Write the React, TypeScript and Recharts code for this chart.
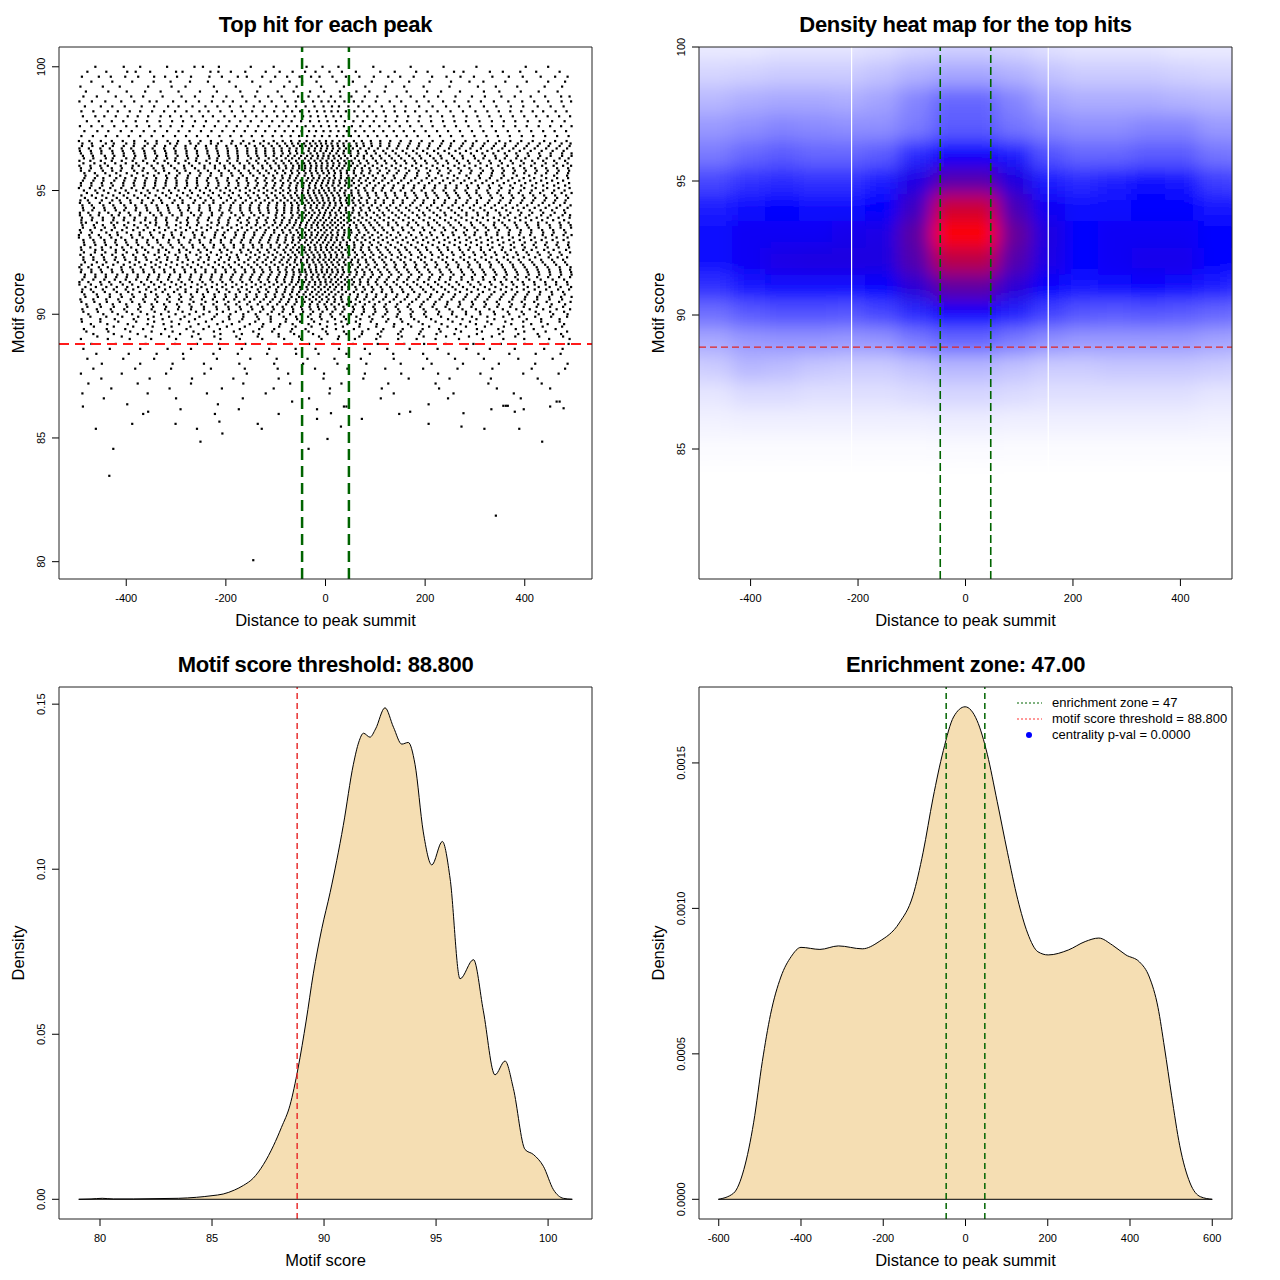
import React from 'react';
import {
  ScatterChart,
  Scatter,
  ComposedChart,
  Area,
  XAxis,
  YAxis,
  ReferenceLine,
  ReferenceArea,
} from 'recharts';

const FONT = '"Liberation Sans", Arial, Helvetica, sans-serif';

// ---------------- Panel 1: top hit for each peak (scatter) ----------------
const enrichmentZone = 47;
const scoreThreshold = 88.8;
const scatterXTicks = [-400, -200, 0, 200, 400];
const scatterYTicks = [80, 85, 90, 95, 100];

const hitScoreLevels = [
  100.0, 99.8, 99.6, 99.4, 99.2, 99.0, 98.8, 98.6, 98.4, 98.2, 98.0, 97.8, 97.6, 97.4, 97.2, 97.0,
  91.0, 93.3, 95.6, 91.9, 94.2, 96.5, 92.8, 95.1, 91.4, 93.7, 96.0, 92.3, 94.6, 96.9, 93.2,
  95.5, 91.8, 94.1, 96.4, 92.7, 95.0, 91.3, 93.6, 95.9, 92.2, 94.5, 96.8, 93.1, 95.4, 91.7,
  90.8, 90.6, 90.4, 90.2, 90.0, 89.8, 89.6, 89.4, 89.2, 89.0,
  88.8, 88.6, 88.4, 88.2, 88.0, 87.8, 87.6, 87.4, 87.2, 87.0, 86.8, 86.6,
  94.0, 96.3, 92.6, 94.9, 91.2, 93.5, 95.8, 92.1, 94.4, 96.7,
  93.0, 95.3, 91.6, 93.9, 96.2, 92.5, 94.8, 91.1, 93.4, 95.7,
  92.0, 94.3, 96.6, 92.9, 95.2, 91.5, 93.8, 96.1, 92.4, 94.7,
  90.9, 90.7, 90.5, 90.3, 90.1, 89.9, 89.7, 89.5, 89.3, 89.1,
];

const hitDistanceRows = [
  [-462,-405,-372,-318,-263,-246,-214,-150,-104,-38,-6,26,96,171,237,303,402,447],
  [-478,-440,-398,-381,-352,-300,-287,-231,-215,-190,-161,-120,-92,-66,-41,-20,8,33,61,110,139,182,205,258,277,330,356,391,423,470],
  [-489,-455,-431,-402,-376,-344,-322,-298,-270,-233,-208,-176,-158,-127,-101,-77,-52,-29,-12,14,41,68,97,126,150,177,214,243,271,298,335,368,396,432,461,486],
  [-470,-428,-388,-345,-311,-272,-236,-193,-147,-110,-72,-47,-18,22,55,93,134,168,209,252,289,317,361,404,447,481],
  [-492,-447,-413,-356,-309,-281,-224,-180,-131,-83,-58,-9,37,80,121,158,197,249,306,342,385,440,475],
  [-481,-436,-399,-362,-331,-295,-252,-218,-171,-137,-96,-64,-31,-3,29,62,88,119,163,204,232,270,318,349,392,428,466],
  [-486,-459,-421,-390,-366,-327,-289,-262,-226,-199,-167,-141,-115,-88,-55,-34,-14,11,30,52,79,104,143,171,198,226,261,294,320,353,380,412,441,473,490],
  [-494,-469,-442,-410,-384,-353,-339,-306,-280,-254,-228,-205,-186,-159,-132,-108,-81,-60,-44,-25,-8,6,19,38,57,74,101,129,152,183,207,236,259,287,312,338,367,395,419,447,474,493],
  [-483,-451,-428,-403,-369,-344,-316,-295,-267,-241,-217,-192,-170,-144,-122,-99,-76,-59,-40,-22,-4,13,27,46,66,88,113,138,161,188,215,242,268,290,318,343,372,397,426,452,478],
  [-490,-466,-437,-417,-393,-372,-348,-324,-302,-279,-253,-235,-211,-188,-166,-147,-126,-103,-84,-67,-51,-33,-17,-2,12,25,41,58,77,95,117,139,160,180,203,225,251,276,301,325,348,371,393,416,437,462,484],
  [-487,-462,-444,-421,-397,-377,-356,-331,-312,-290,-269,-246,-226,-203,-182,-161,-139,-118,-97,-79,-62,-45,-30,-15,1,16,31,47,64,84,102,121,144,166,189,211,234,257,283,305,329,352,376,399,423,446,469,491],
  [-479,-455,-429,-406,-381,-358,-333,-308,-286,-262,-240,-215,-193,-171,-150,-128,-107,-86,-68,-49,-31,-13,4,21,39,56,75,97,120,141,164,187,212,236,259,282,309,334,358,381,406,430,455,480],
  [-493,-470,-448,-424,-400,-379,-354,-331,-311,-288,-266,-244,-222,-199,-178,-156,-135,-113,-93,-74,-57,-40,-24,-9,7,22,37,53,70,89,108,128,149,170,193,215,239,262,287,311,334,357,381,404,428,451,473,494],
  [-484,-458,-436,-411,-389,-365,-343,-318,-295,-273,-250,-229,-207,-184,-162,-140,-121,-101,-82,-65,-48,-33,-19,-4,10,26,43,60,78,97,116,137,157,178,201,224,246,270,294,317,342,366,389,413,437,460,483],
  [-490,-467,-441,-418,-395,-372,-349,-326,-302,-280,-258,-236,-213,-191,-169,-148,-127,-106,-88,-70,-53,-37,-22,-7,8,23,36,51,67,85,104,123,143,163,185,208,230,252,275,299,323,346,370,394,417,441,465,488],
  [-495,-474,-451,-429,-407,-384,-362,-339,-317,-296,-273,-251,-230,-209,-187,-165,-144,-124,-104,-86,-69,-52,-38,-25,-12,1,14,28,42,57,73,91,110,130,151,171,193,215,236,258,281,303,326,349,371,393,416,439,461,484],
  [-488,-471,-447,-425,-401,-386,-360,-341,-322,-297,-281,-257,-238,-218,-199,-175,-158,-136,-119,-99,-81,-66,-50,-36,-21,-9,5,18,33,46,62,79,96,114,133,154,174,196,217,240,261,284,306,329,352,374,398,420,443,467,489],
  [-491,-469,-440,-418,-399,-373,-352,-333,-309,-289,-266,-247,-221,-203,-181,-162,-143,-122,-103,-85,-70,-55,-41,-28,-15,-2,11,24,38,52,68,86,105,124,146,167,190,210,233,255,278,300,322,345,368,391,413,437,458,482],
  [-482,-458,-433,-412,-389,-366,-344,-320,-298,-276,-253,-231,-209,-187,-166,-145,-124,-105,-87,-71,-56,-42,-27,-12,3,17,31,46,61,77,95,115,137,160,184,208,233,258,283,308,333,358,384,409,434,459,485],
  [-494,-476,-455,-437,-410,-392,-371,-349,-333,-311,-287,-270,-249,-226,-206,-190,-168,-149,-131,-112,-95,-78,-63,-47,-33,-19,-6,7,20,34,49,65,82,99,118,139,158,180,199,221,243,266,287,310,331,356,377,400,424,446,470,492],
  [-486,-468,-443,-421,-404,-381,-358,-336,-315,-292,-276,-254,-232,-213,-193,-171,-152,-133,-115,-97,-83,-68,-54,-40,-26,-13,1,13,27,41,56,72,89,108,127,147,168,188,209,231,253,274,297,319,342,363,387,410,432,455,479],
  [-491,-470,-450,-427,-405,-384,-363,-342,-320,-301,-279,-258,-237,-216,-196,-177,-157,-139,-121,-103,-86,-71,-57,-44,-30,-17,-4,9,22,36,50,66,83,101,121,141,162,183,204,226,248,270,292,315,337,360,383,406,429,452,475,494],
  [-484,-462,-441,-419,-397,-376,-355,-331,-311,-289,-267,-246,-224,-205,-184,-165,-146,-128,-110,-92,-76,-61,-48,-35,-22,-10,3,15,29,43,58,75,93,111,131,152,172,194,215,238,259,282,304,326,349,372,395,418,441,464,487],
  [-495,-473,-453,-432,-410,-389,-366,-345,-325,-302,-282,-260,-240,-219,-200,-180,-160,-142,-124,-106,-90,-74,-59,-45,-32,-20,-7,6,18,32,46,61,78,96,115,135,156,177,198,219,241,263,286,308,330,353,376,399,422,445,468,490],
  [-488,-466,-444,-423,-401,-380,-358,-337,-316,-295,-273,-252,-231,-211,-191,-171,-152,-134,-116,-99,-83,-67,-53,-39,-26,-13,0,12,25,39,53,69,86,104,123,144,164,185,207,228,250,273,295,317,340,363,386,409,432,456,479],
  [-490,-481,-459,-430,-418,-396,-371,-352,-340,-318,-291,-276,-255,-229,-214,-195,-170,-154,-137,-118,-101,-88,-72,-60,-49,-37,-24,-15,-3,10,19,31,44,57,71,88,104,126,142,167,182,206,224,247,268,292,311,339,355,380,402,427,444,470,488],
  [-494,-472,-452,-437,-411,-387,-375,-349,-327,-310,-284,-268,-243,-222,-203,-185,-163,-146,-127,-111,-94,-80,-65,-53,-41,-29,-18,-8,4,15,27,38,51,64,79,95,113,133,151,174,192,215,236,259,279,301,324,347,366,391,413,435,458,477,493],
  [-486,-466,-445,-421,-404,-381,-361,-334,-317,-296,-279,-251,-234,-210,-192,-176,-151,-133,-116,-100,-84,-70,-58,-45,-33,-22,-11,0,11,22,34,46,59,74,90,108,121,145,160,186,200,227,244,271,289,313,333,358,377,398,421,448,466,485],
  [-492,-477,-449,-428,-413,-392,-368,-346,-330,-303,-287,-262,-241,-225,-198,-181,-160,-140,-122,-106,-90,-76,-62,-50,-38,-27,-16,-5,6,17,29,41,54,67,83,100,117,136,155,179,197,218,240,262,285,304,329,351,372,395,417,440,461,482],
  [-488,-469,-441,-425,-400,-384,-357,-339,-312,-298,-271,-255,-230,-216,-189,-170,-153,-131,-114,-97,-81,-67,-55,-43,-31,-20,-9,1,12,24,36,48,62,76,92,110,128,148,169,188,209,233,252,276,296,319,342,361,386,408,430,451,474,492],
  [-495,-474,-455,-433,-417,-390,-373,-350,-325,-308,-290,-263,-248,-222,-206,-180,-164,-143,-125,-109,-93,-78,-64,-51,-39,-28,-17,-6,4,14,25,37,49,63,78,94,112,131,150,172,193,213,236,257,281,299,323,345,368,389,411,436,455,478,494],
  [-484,-463,-446,-420,-402,-381,-359,-340,-318,-301,-277,-258,-236,-219,-196,-174,-158,-137,-119,-102,-86,-72,-59,-47,-35,-24,-13,-2,8,19,31,43,56,70,85,101,119,139,158,180,203,221,245,265,288,310,330,353,375,398,419,443,465,487],
  [-490,-470,-451,-429,-409,-387,-366,-345,-324,-304,-283,-262,-241,-221,-201,-183,-162,-144,-127,-111,-95,-80,-66,-53,-41,-30,-19,-8,3,13,24,35,47,60,74,89,106,124,143,164,184,206,229,249,272,293,315,337,360,381,404,426,449,471,491],
  [-493,-476,-454,-436,-413,-395,-372,-352,-331,-313,-289,-270,-249,-228,-207,-189,-168,-149,-131,-114,-98,-83,-69,-56,-44,-33,-22,-11,-1,9,20,31,42,54,67,81,97,115,134,153,175,196,217,239,260,283,305,326,349,371,393,415,437,460,481],
  [-487,-467,-443,-424,-405,-382,-362,-338,-320,-297,-278,-256,-234,-214,-195,-176,-155,-137,-120,-104,-89,-75,-62,-49,-37,-26,-15,-4,6,16,27,39,51,64,77,92,109,128,147,168,189,210,231,254,275,298,320,341,364,386,408,431,452,475,494],
  [-491,-472,-449,-431,-408,-390,-368,-347,-327,-307,-285,-266,-243,-225,-203,-184,-165,-145,-128,-110,-94,-79,-65,-53,-42,-31,-20,-9,1,11,22,33,45,58,72,87,103,121,140,160,181,202,225,245,268,290,312,335,356,379,400,423,446,468,489],
  [-485,-462,-445,-422,-401,-380,-357,-337,-314,-295,-272,-252,-232,-211,-192,-172,-152,-134,-117,-100,-85,-71,-58,-46,-35,-24,-13,-3,7,18,29,40,52,66,80,95,113,132,151,173,193,215,237,259,281,303,325,348,370,392,414,437,459,480],
  [-494,-476,-452,-434,-412,-393,-370,-350,-330,-309,-289,-268,-247,-227,-207,-187,-167,-148,-130,-113,-97,-82,-68,-55,-43,-32,-21,-10,0,10,21,32,44,57,70,85,101,119,137,157,177,198,220,241,263,286,307,330,352,374,396,419,441,463,485],
  [-488,-465,-447,-425,-404,-384,-361,-341,-319,-300,-278,-258,-237,-217,-197,-178,-158,-140,-123,-106,-91,-77,-63,-51,-39,-28,-17,-6,4,14,25,37,49,62,76,91,108,126,145,165,186,207,229,251,272,294,317,338,360,383,405,427,450,472,492],
  [-491,-471,-450,-429,-409,-388,-365,-345,-325,-303,-283,-262,-243,-222,-202,-182,-163,-144,-126,-109,-93,-79,-66,-53,-41,-30,-19,-8,2,12,23,34,46,59,73,88,104,122,141,161,182,203,224,246,267,289,311,333,355,377,399,421,443,465,487],
  [-486,-466,-444,-423,-402,-381,-359,-339,-318,-297,-276,-255,-235,-214,-194,-174,-155,-137,-120,-103,-88,-74,-61,-49,-37,-26,-15,-4,7,17,28,40,53,66,81,96,114,132,151,171,192,213,235,256,278,300,322,344,366,388,410,433,455,477],
  [-493,-474,-453,-433,-411,-391,-369,-349,-328,-307,-287,-265,-245,-225,-205,-185,-166,-148,-130,-113,-97,-83,-69,-57,-45,-34,-23,-12,-2,9,20,31,43,56,70,84,100,117,136,155,175,196,218,239,261,283,304,326,348,370,392,414,436,458,480],
  [-489,-468,-447,-427,-405,-385,-363,-343,-322,-301,-281,-260,-240,-219,-199,-180,-160,-142,-125,-108,-92,-77,-64,-51,-40,-28,-17,-7,4,14,25,37,50,63,77,93,110,128,146,166,187,208,230,251,273,295,316,338,360,382,404,426,448,470,490],
  [-495,-472,-451,-430,-410,-388,-367,-346,-326,-305,-284,-263,-243,-223,-202,-183,-164,-146,-128,-111,-95,-80,-66,-54,-42,-31,-20,-9,1,12,22,34,46,60,74,89,106,123,142,162,182,203,224,246,268,289,311,333,355,376,398,420,442,464,486],
  [-487,-466,-446,-424,-404,-383,-362,-341,-320,-299,-279,-258,-238,-217,-197,-178,-158,-140,-122,-106,-90,-75,-62,-50,-38,-27,-16,-5,6,16,28,40,53,67,81,97,114,133,152,172,193,214,236,257,279,301,323,345,367,389,411,433,455,477],
  [-491,-470,-449,-428,-407,-386,-365,-344,-323,-303,-282,-261,-241,-221,-200,-181,-161,-143,-125,-108,-92,-78,-64,-52,-40,-29,-18,-7,3,14,25,37,50,63,78,93,110,128,147,167,188,209,231,252,274,296,318,340,362,384,406,428,450,472,493],
  [-484,-459,-433,-411,-388,-362,-340,-316,-293,-270,-246,-223,-201,-180,-159,-139,-120,-102,-86,-71,-57,-44,-31,-18,-6,7,20,34,49,65,83,102,122,144,166,189,212,236,260,284,308,333,357,381,405,430,455,480],
  [-492,-466,-440,-416,-391,-366,-342,-318,-294,-271,-248,-226,-204,-183,-163,-143,-124,-106,-89,-73,-59,-45,-32,-19,-7,6,19,32,46,61,78,96,116,137,159,182,205,229,253,277,301,325,350,375,400,425,450,475],
  [-480,-453,-427,-400,-374,-349,-324,-298,-273,-249,-225,-201,-179,-157,-136,-116,-97,-79,-62,-46,-31,-16,-2,12,27,43,60,79,99,121,144,168,193,218,244,270,296,322,348,374,400,427,454,481],
  [-488,-459,-431,-404,-376,-349,-322,-296,-270,-244,-218,-194,-170,-147,-125,-104,-84,-65,-47,-30,-13,3,20,38,57,77,99,122,146,171,197,223,249,275,302,329,356,383,410,437,464,491],
  [-476,-446,-417,-388,-358,-330,-301,-273,-245,-218,-191,-165,-140,-116,-93,-71,-50,-30,-10,10,30,51,73,96,120,145,171,198,226,254,282,311,340,369,398,428,457,486],
  [-490,-452,-423,-385,-356,-327,-291,-262,-228,-193,-167,-134,-110,-79,-57,-28,-8,19,41,70,94,126,151,178,212,246,275,303,339,375,404,433,470],
  [-471,-438,-397,-357,-325,-294,-255,-217,-188,-152,-125,-91,-66,-34,-11,20,44,69,103,138,166,195,233,271,302,333,373,413,446,479],
  [-485,-439,-402,-366,-322,-279,-245,-212,-172,-133,-103,-67,-40,-6,21,57,86,116,155,195,228,262,304,347,382,418,462],
  [-466,-425,-377,-330,-292,-255,-211,-168,-134,-94,-63,-25,4,42,73,105,146,188,223,259,304,349,387,426,473],
  [-491,-437,-393,-350,-300,-251,-211,-172,-127,-83,-49,-8,25,59,102,146,183,221,268,316,357,399,449,490],
  [-470,-421,-361,-302,-258,-214,-161,-109,-70,-33,16,55,105,158,198,241,297,352,400,447,488],
  [-486,-433,-372,-317,-270,-212,-168,-113,-60,-20,27,79,124,169,225,283,330,380,439,476],
  [-460,-395,-339,-286,-225,-176,-117,-59,-14,42,89,136,196,247,307,369,422,472],
  [-478,-406,-344,-285,-218,-151,-98,-36,18,71,137,204,260,318,387,456],
  [-449,-372,-307,-244,-173,-103,-45,24,82,151,213,276,348,421,486],
  [-466,-382,-310,-230,-162,-96,-21,44,120,196,265,335,414,481],
  [-491,-409,-320,-243,-158,-75,-3,79,152,226,311,397,468],
  [-450,-353,-268,-185,-94,-4,76,167,249,332,426],
  [-476,-377,-270,-165,-71,32,126,221,327,434],
  [-430,-313,-208,-104,9,113,228,344,451],
  [-488,-357,-238,-120,8,137,257,378],
  [-445,-300,-166,-33,111,246,392],
  [-493,-472,-455,-429,-415,-392,-373,-345,-329,-307,-289,-264,-251,-228,-209,-181,-165,-143,-125,-100,-87,-66,-52,-39,-27,-14,-3,10,22,37,50,68,83,104,118,141,160,184,199,224,241,267,283,306,325,351,366,390,409,433,452,476,491],
  [-485,-466,-441,-427,-400,-384,-361,-340,-318,-301,-276,-259,-233,-217,-193,-176,-150,-134,-114,-98,-80,-67,-53,-41,-29,-16,-6,6,18,31,44,59,77,95,112,133,152,175,192,217,233,258,276,300,317,342,360,383,401,427,444,470,488],
  [-490,-462,-448,-421,-405,-380,-362,-335,-320,-294,-279,-255,-238,-212,-197,-171,-155,-136,-117,-102,-84,-70,-57,-43,-32,-20,-9,3,14,27,40,55,71,88,106,125,146,163,186,204,228,246,270,287,312,330,354,372,397,414,439,458,483],
  [-479,-458,-436,-413,-396,-370,-353,-327,-310,-286,-268,-244,-226,-203,-186,-160,-144,-124,-108,-91,-75,-61,-47,-35,-23,-12,0,12,24,38,52,66,84,101,120,139,160,178,201,219,242,262,284,303,327,345,369,388,411,431,455,474,494],
  [-494,-471,-450,-430,-407,-388,-364,-344,-323,-300,-282,-257,-241,-218,-200,-179,-159,-140,-122,-104,-88,-72,-59,-46,-34,-21,-10,2,15,26,39,54,69,86,104,123,143,164,184,206,226,248,268,291,311,333,355,377,398,420,442,463,486],
  [-487,-463,-443,-423,-399,-377,-357,-334,-315,-291,-272,-249,-230,-207,-189,-168,-149,-131,-114,-97,-81,-66,-52,-40,-28,-15,-3,9,21,33,47,62,79,96,114,134,154,173,195,214,237,257,279,299,322,341,365,385,408,428,451,472,493],
  [-491,-474,-447,-428,-411,-384,-367,-341,-324,-298,-281,-255,-236,-214,-194,-174,-154,-136,-119,-101,-85,-69,-56,-43,-31,-19,-7,5,17,30,43,57,74,90,109,128,147,168,187,210,229,251,272,293,316,336,358,380,402,424,446,468,489],
  [-483,-459,-440,-417,-393,-374,-350,-331,-309,-287,-266,-244,-222,-203,-182,-163,-143,-126,-109,-92,-77,-62,-49,-37,-24,-12,0,12,24,37,51,65,82,99,118,138,158,179,199,221,242,263,286,305,329,348,371,392,415,436,459,481],
  [-488,-469,-446,-426,-404,-382,-361,-339,-318,-296,-275,-253,-233,-211,-190,-171,-151,-133,-115,-98,-82,-67,-54,-41,-29,-17,-4,8,20,33,46,60,76,93,111,130,150,170,191,212,234,255,276,298,320,340,362,385,405,428,449,471,492],
  [-494,-475,-452,-433,-409,-390,-367,-347,-324,-304,-281,-262,-239,-219,-197,-178,-157,-139,-121,-104,-88,-72,-58,-46,-33,-21,-9,3,15,28,41,55,70,87,105,124,143,164,184,205,226,248,269,291,312,334,355,377,399,420,443,464,485],
  [-486,-466,-444,-421,-402,-379,-357,-338,-314,-295,-271,-253,-230,-210,-189,-168,-150,-131,-113,-96,-80,-65,-51,-38,-26,-13,-1,11,23,36,49,64,80,97,115,135,155,176,196,217,239,260,283,303,326,346,369,390,413,434,456,478],
  [-491,-470,-449,-430,-406,-385,-363,-342,-321,-299,-278,-258,-235,-215,-194,-175,-155,-136,-118,-101,-85,-70,-56,-44,-31,-19,-7,5,16,29,42,57,72,89,107,126,146,166,187,208,229,250,272,293,315,336,358,380,401,423,445,467,489],
  [-483,-462,-441,-418,-398,-377,-354,-334,-312,-292,-270,-249,-228,-208,-186,-167,-147,-129,-111,-94,-79,-64,-50,-38,-25,-14,-2,10,22,34,48,62,78,95,113,132,152,172,193,214,235,257,278,300,321,343,364,386,408,429,451,473,494],
  [-489,-468,-447,-425,-404,-383,-361,-340,-319,-297,-276,-255,-234,-213,-192,-172,-153,-134,-116,-99,-83,-68,-54,-42,-29,-17,-5,7,19,31,44,58,74,91,109,127,147,167,188,209,230,252,273,295,316,338,359,381,402,424,446,468,490],
  [-494,-472,-451,-429,-409,-387,-366,-344,-323,-302,-281,-260,-239,-218,-197,-177,-157,-139,-121,-104,-88,-73,-59,-46,-34,-22,-10,2,13,25,38,52,67,83,101,119,139,159,179,200,221,243,264,286,307,329,350,372,393,415,437,459,481],
  [-485,-463,-442,-421,-399,-378,-356,-335,-314,-293,-272,-251,-230,-209,-189,-169,-150,-132,-114,-97,-81,-66,-53,-40,-28,-16,-4,8,20,32,45,59,75,92,110,129,149,169,190,211,232,254,275,297,318,340,361,383,404,426,448,470,491],
  [-490,-469,-448,-426,-405,-384,-362,-341,-320,-298,-277,-256,-235,-214,-194,-174,-155,-136,-118,-101,-85,-70,-57,-44,-32,-20,-8,3,15,27,39,53,68,85,102,121,140,160,181,202,223,245,266,288,309,331,352,374,396,417,439,461,483],
  [-482,-461,-440,-419,-398,-376,-355,-334,-312,-291,-270,-249,-228,-207,-187,-168,-148,-130,-112,-95,-79,-64,-51,-38,-26,-14,-2,9,21,33,46,60,76,93,111,130,150,170,191,212,233,255,276,298,320,341,363,384,406,428,450,472,493],
  [-493,-472,-450,-429,-408,-386,-365,-344,-322,-301,-280,-259,-238,-217,-196,-176,-157,-138,-120,-103,-87,-72,-58,-46,-33,-21,-9,2,14,26,38,51,66,82,99,117,136,156,177,198,219,240,262,284,305,327,348,370,392,413,435,457,479],
  [-484,-463,-442,-420,-399,-378,-357,-335,-314,-293,-272,-251,-230,-209,-189,-170,-151,-132,-114,-97,-81,-67,-53,-40,-28,-16,-4,7,19,31,43,57,72,88,105,124,143,163,184,205,226,247,269,291,312,334,355,377,399,421,443,465,487],
  [-490,-469,-447,-426,-405,-383,-362,-341,-320,-298,-277,-256,-235,-214,-194,-174,-155,-137,-119,-102,-86,-71,-57,-44,-32,-20,-8,3,15,27,40,54,69,86,103,122,141,161,182,203,224,246,267,289,310,332,354,376,397,419,441,463,485],
  [-487,-465,-444,-423,-401,-380,-359,-337,-316,-295,-274,-253,-232,-211,-191,-171,-152,-134,-116,-99,-83,-68,-55,-42,-30,-18,-6,5,17,29,41,55,70,87,104,123,142,162,183,204,225,247,268,290,311,333,355,376,398,420,442,464,486],
  [-493,-471,-450,-428,-407,-386,-364,-343,-322,-301,-279,-258,-237,-217,-196,-177,-157,-139,-121,-104,-88,-73,-59,-47,-34,-22,-10,1,13,25,37,50,65,81,98,116,135,155,176,196,218,239,261,282,304,325,347,369,390,412,434,456,478],
  [-485,-464,-443,-422,-400,-379,-358,-337,-315,-294,-273,-252,-231,-210,-190,-170,-151,-133,-115,-98,-82,-67,-54,-41,-29,-17,-5,6,18,30,43,57,72,89,106,125,145,165,185,206,228,249,270,292,313,335,357,378,400,422,444,466,488],
  [-491,-470,-448,-427,-406,-384,-363,-342,-321,-299,-278,-257,-236,-215,-195,-175,-156,-138,-120,-103,-87,-72,-58,-45,-33,-21,-9,2,14,26,39,52,67,83,100,118,137,157,178,199,220,241,263,284,306,328,349,371,393,415,437,459,481],
  [-484,-462,-441,-420,-399,-377,-356,-335,-314,-292,-271,-250,-229,-209,-189,-169,-150,-132,-114,-97,-81,-66,-53,-40,-28,-16,-4,7,19,31,44,58,74,91,108,127,147,167,188,209,230,251,273,294,316,338,359,381,403,425,447,469,491],
  [-490,-469,-447,-426,-405,-384,-362,-341,-320,-299,-278,-257,-236,-215,-195,-176,-157,-138,-120,-103,-87,-72,-59,-46,-33,-21,-10,1,13,25,37,51,66,82,99,117,136,156,176,197,218,240,261,283,304,326,348,369,391,413,435,457,479],
  [-486,-464,-443,-422,-401,-380,-358,-337,-316,-295,-274,-253,-232,-212,-192,-172,-153,-135,-117,-100,-84,-69,-56,-43,-31,-19,-7,4,16,28,41,55,70,86,104,122,142,162,182,203,225,246,268,289,311,332,354,376,398,420,442,464,486],
  [-492,-471,-449,-428,-407,-386,-365,-343,-322,-301,-280,-259,-238,-218,-198,-178,-159,-141,-123,-106,-90,-75,-61,-48,-36,-24,-12,-1,11,23,35,48,63,79,96,114,133,152,172,193,214,235,257,278,300,321,343,365,386,408,430,452,474],
  [-483,-461,-440,-419,-398,-377,-356,-334,-313,-292,-271,-251,-230,-210,-190,-170,-151,-133,-115,-98,-82,-68,-54,-42,-30,-18,-6,6,18,30,43,57,72,88,106,124,144,164,184,205,226,248,269,291,312,334,356,377,399,421,443,465,487],
  [-489,-466,-443,-419,-396,-373,-350,-327,-304,-281,-258,-236,-214,-193,-172,-152,-133,-115,-98,-82,-67,-53,-40,-27,-14,-1,12,26,41,57,74,93,113,134,156,178,201,224,247,270,293,316,339,362,385,408,431,454,477],
  [-482,-457,-433,-409,-385,-361,-337,-313,-290,-267,-244,-222,-200,-179,-158,-138,-119,-101,-84,-68,-53,-39,-25,-12,2,16,31,47,64,82,101,121,142,164,187,210,233,257,281,305,329,353,377,401,425,449,473,494],
  [-490,-464,-439,-413,-388,-363,-338,-313,-289,-265,-241,-218,-195,-173,-152,-131,-111,-92,-75,-58,-42,-27,-12,3,18,34,51,69,88,108,129,151,174,197,221,245,269,294,319,344,369,394,419,444,469,492],
  [-478,-451,-425,-398,-372,-346,-320,-294,-269,-244,-219,-195,-172,-149,-127,-106,-86,-67,-49,-32,-15,1,18,36,55,75,96,118,141,165,190,215,241,267,293,319,345,371,398,424,451,477],
  [-486,-457,-428,-399,-371,-343,-315,-287,-260,-233,-206,-180,-155,-131,-108,-86,-65,-45,-25,-6,14,34,55,77,100,124,149,175,201,228,255,282,310,338,366,394,422,451,479],
  [-472,-440,-408,-376,-345,-314,-283,-253,-223,-194,-165,-137,-110,-84,-59,-35,-11,13,37,62,88,115,143,172,202,232,263,294,325,357,389,421,453,485],
  [-489,-452,-416,-380,-344,-309,-274,-240,-206,-173,-141,-110,-80,-51,-23,4,32,61,91,122,154,187,221,255,290,325,361,397,433,470],
  [-465,-425,-386,-347,-309,-271,-234,-198,-162,-127,-93,-60,-28,3,35,68,102,137,172,208,245,282,320,358,397,436,475],
  [-480,-436,-392,-349,-307,-265,-224,-184,-145,-107,-70,-34,1,37,74,112,151,191,231,272,314,356,399,442,485],
  [-458,-409,-361,-314,-268,-223,-179,-136,-94,-53,-13,27,68,110,153,197,242,288,334,381,429,477],
];

const lowHitDistance = [
  -487,-461,-426,-434,-398,-388,-366,-356,-301,-291,-258,-251,-222,-216,-213,-207,-174,-145,-136,-128,
  -94,-67,-34,-17,-17,4,11,31,37,42,73,148,170,207,207,273,277,319,333,342,357,362,366,380,389,398,435,451,464,470,478,
];
const lowHitScore = [
  86.27,85.37,84.56,83.47,86.36,85.57,85.97,86.06,85.57,86.16,85.37,84.85,85.97,86.36,85.66,85.18,86.16,80.06,85.57,85.37,
  85.97,86.47,84.56,86.16,85.77,84.96,86.0,85.46,86.27,86.27,85.77,85.97,86.06,86.36,85.57,85.46,86.0,85.37,86.16,81.86,86.3,86.3,86.3,86.06,85.37,86.16,84.85,86.27,86.47,86.47,86.2,
];

// ---------------- Panel 2: density heat map ----------------
const heatXTicks = [-400, -200, 0, 200, 400];
const heatYTicks = [85, 90, 95, 100];
const heatSeams = [-212, 154];
const heatDistance = [-527, -465, -403, -341, -279, -217, -155, -93, -31, 31, 93, 155, 217, 279, 341, 403, 465, 527];
const heatScore = [101, 100, 99, 98, 97, 96, 95, 94, 93, 92, 91, 90, 89, 88, 87, 86, 85];
const heatDensity = [
  [0.03,0.03,0.03,0.03,0.03,0.03,0.04,0.05,0.06,0.06,0.05,0.04,0.03,0.03,0.03,0.03,0.03,0.03],
  [0.04,0.04,0.04,0.05,0.05,0.05,0.06,0.08,0.09,0.09,0.08,0.06,0.05,0.05,0.05,0.04,0.04,0.04],
  [0.08,0.08,0.09,0.1,0.1,0.1,0.12,0.15,0.17,0.17,0.15,0.12,0.1,0.1,0.1,0.09,0.08,0.08],
  [0.14,0.14,0.16,0.17,0.17,0.16,0.18,0.24,0.3,0.3,0.24,0.18,0.16,0.16,0.16,0.15,0.14,0.14],
  [0.2,0.2,0.22,0.24,0.23,0.22,0.22,0.26,0.32,0.32,0.27,0.24,0.22,0.22,0.24,0.24,0.2,0.2],
  [0.26,0.26,0.3,0.32,0.3,0.3,0.32,0.42,0.5,0.5,0.44,0.34,0.3,0.3,0.32,0.32,0.27,0.26],
  [0.36,0.36,0.4,0.42,0.4,0.4,0.44,0.55,0.66,0.66,0.56,0.44,0.42,0.44,0.47,0.46,0.38,0.36],
  [0.44,0.44,0.48,0.5,0.48,0.47,0.5,0.62,0.9,0.9,0.64,0.52,0.48,0.48,0.5,0.5,0.46,0.44],
  [0.48,0.48,0.52,0.52,0.52,0.54,0.55,0.68,1,1,0.7,0.56,0.5,0.52,0.52,0.52,0.5,0.48],
  [0.47,0.47,0.52,0.55,0.56,0.56,0.56,0.66,0.86,0.86,0.66,0.55,0.5,0.52,0.54,0.54,0.5,0.47],
  [0.4,0.4,0.45,0.48,0.48,0.48,0.5,0.58,0.68,0.68,0.58,0.5,0.46,0.48,0.5,0.48,0.44,0.4],
  [0.28,0.28,0.32,0.34,0.34,0.33,0.36,0.42,0.5,0.5,0.43,0.37,0.33,0.32,0.33,0.32,0.3,0.28],
  [0.17,0.17,0.2,0.21,0.21,0.2,0.21,0.26,0.3,0.3,0.26,0.22,0.2,0.2,0.2,0.2,0.18,0.17],
  [0.09,0.1,0.14,0.13,0.11,0.1,0.1,0.12,0.14,0.14,0.12,0.1,0.1,0.11,0.11,0.11,0.1,0.09],
  [0.05,0.05,0.07,0.07,0.06,0.06,0.06,0.07,0.08,0.08,0.07,0.06,0.06,0.06,0.06,0.06,0.05,0.05],
  [0.025,0.025,0.03,0.03,0.03,0.03,0.03,0.03,0.035,0.035,0.03,0.03,0.03,0.03,0.03,0.03,0.025,0.025],
  [0.008,0.008,0.008,0.008,0.008,0.008,0.008,0.008,0.01,0.01,0.008,0.008,0.008,0.008,0.008,0.008,0.008,0.008],
];

// ---------------- Panel 3: motif score density ----------------
const scoreXTicks = [80, 85, 90, 95, 100];
const scoreYTicks = [0, 0.05, 0.1, 0.15];
const scoreGrid = [
  79.05, 79.6, 80.1, 80.6, 81.5, 82.5, 83.5, 84.3, 85.0, 85.5, 86.0, 86.4, 86.84, 87.3, 87.74, 88.1, 88.48, 88.84,
  89.2, 89.52, 89.9, 90.27, 90.86, 91.31, 91.55, 91.76, 92.05, 92.3, 92.72, 93.1, 93.47, 93.76, 94.06, 94.43, 94.81,
  95.28, 95.63, 96.07, 96.67, 97.11, 97.63, 98.08, 98.45, 98.97, 99.34, 99.79, 100.24, 100.68, 101.08,
];
const scoreDensity = [
  0, 0.0001, 0.0003, 0.0001, 0.0001, 0.0002, 0.0003, 0.0006, 0.0011, 0.0016, 0.0028, 0.0042, 0.0064, 0.0106, 0.0162, 0.0218, 0.0285, 0.0397,
  0.054, 0.0683, 0.082, 0.0929, 0.1133, 0.1318, 0.1385, 0.1412, 0.14, 0.1425, 0.1489, 0.143, 0.1379, 0.1384, 0.1318, 0.1113, 0.1013,
  0.1084, 0.097, 0.0668, 0.0726, 0.0571, 0.0377, 0.0419, 0.0336, 0.0151, 0.0136, 0.01, 0.0029, 0.0003, 0,
];

// ---------------- Panel 4: distance density ----------------
const distXTicks = [-600, -400, -200, 0, 200, 400, 600];
const distYTicks = [0, 0.0005, 0.001, 0.0015];
const distGrid = [
  -601, -564, -539, -515, -494, -474, -449, -424, -400, -354, -309, -251, -210, -161, -128, -103, -79, -54, -29, -1,
  28, 53, 77, 102, 127, 151, 176, 201, 250, 291, 324, 357, 390, 423, 447, 468, 484, 501, 521, 546, 571, 600,
];
const distDensity = [
  0, 0.000021, 0.000102, 0.000265, 0.000474, 0.000636, 0.000764, 0.000834, 0.000866, 0.000859, 0.000871, 0.000861, 0.000886,
  0.00095, 0.001043, 0.001193, 0.001379, 0.001542, 0.001658, 0.001693, 0.001646, 0.00153, 0.001368, 0.001193, 0.001031,
  0.000915, 0.000851, 0.00084, 0.000857, 0.000886, 0.000898, 0.000874, 0.00084, 0.000816, 0.000764, 0.00066, 0.00052,
  0.000358, 0.000184, 0.000056, 0.000009, 0,
];
const legendLabels = ['enrichment zone = 47', 'motif score threshold = 88.800', 'centrality p-val = 0.0000'];
const legendColors = ['#006400', '#ff3030', '#0000ff'];

// ---------------- derived tables ----------------
const scatterPoints: any[] = [];
hitDistanceRows.forEach((row, i) => {
  row.forEach((d) => scatterPoints.push({ d, s: hitScoreLevels[i] }));
});
lowHitDistance.forEach((d, i) => scatterPoints.push({ d, s: lowHitScore[i] }));

const heatCells: any[] = [];
heatScore.forEach((s, r) => {
  heatDistance.forEach((d, c) => heatCells.push({ d, s, t: heatDensity[r][c] }));
});

const scoreData = scoreGrid.map((x, i) => ({ x, y: scoreDensity[i] }));
const distData = distGrid.map((x, i) => ({ x, y: distDensity[i] }));

// ---------------- layout / style ----------------
const CHART = 640;
const MARGIN = { top: 47, right: 48, bottom: 31, left: 9 };
const Y_W = 50;
const X_H = 30;
const PLOT_W = CHART - MARGIN.left - MARGIN.right - Y_W;
const PLOT_H = CHART - MARGIN.top - MARGIN.bottom - X_H;
const TOP_Z = 2000;

const scatterXDomain = [-535, 535];
const scatterYDomain = [79.3, 100.8];
const heatXDomain = [-496, 496];
const heatYDomain = [80.15, 100];
const scoreXDomain = [78.17, 101.96];
const scoreYDomain = [-0.00597, 0.1552];
const distXDomain = [-648, 648];
const distYDomain = [-0.0000677, 0.001761];

const heatCellW = (PLOT_W * 62) / (heatXDomain[1] - heatXDomain[0]) + 1;
const heatCellH = (PLOT_H * 1) / (heatYDomain[1] - heatYDomain[0]) + 1;

const heatColor = (t: number) => {
  const v = Math.max(0, Math.min(1, t));
  if (v < 0.5) {
    const c = Math.round(255 * (1 - v / 0.5));
    return `rgb(${c},${c},255)`;
  }
  const s = (v - 0.5) / 0.5;
  return `rgb(${Math.round(255 * s)},0,${Math.round(255 * (1 - s))})`;
};

const X_TICK = { fontSize: 11, fill: '#000', fontFamily: FONT };

const rotTick = (props: any, fmt: (v: number) => string) => {
  const { x, y, payload } = props;
  return (
    <text
      x={x}
      y={y}
      transform={`rotate(-90 ${x} ${y})`}
      textAnchor="middle"
      fontSize={11}
      fontFamily={FONT}
      fill="#000"
    >
      {fmt(payload.value)}
    </text>
  );
};

const xAxisProps = (domain: number[], ticks: number[]) => ({
  type: 'number' as const,
  domain,
  ticks,
  allowDataOverflow: true,
  interval: 0 as const,
  tickSize: 7,
  tickMargin: 8,
  axisLine: false,
  tickLine: { stroke: '#000' },
  tick: X_TICK,
  height: X_H,
});

const yAxisProps = (domain: number[], ticks: number[], fmt: (v: number) => string) => ({
  type: 'number' as const,
  domain,
  ticks,
  allowDataOverflow: true,
  interval: 0 as const,
  tickSize: 7,
  tickMargin: 7,
  axisLine: false,
  tickLine: { stroke: '#000' },
  tick: (p: any) => rotTick(p, fmt),
  width: Y_W,
});

const frame = (xd: number[], yd: number[]) => (
  <ReferenceArea
    x1={xd[0]}
    x2={xd[1]}
    y1={yd[0]}
    y2={yd[1]}
    fill="none"
    fillOpacity={0}
    stroke="#222"
    strokeWidth={1}
    ifOverflow="visible"
    zIndex={TOP_Z}
  />
);

function Panel({ left, top, title, xLabel, yLabel, children }: any) {
  return (
    <div style={{ position: 'absolute', left, top, width: CHART, height: CHART }}>
      {children}
      <div
        style={{
          position: 'absolute', left: 59, top: 12, width: 533, textAlign: 'center',
          fontSize: 22, fontWeight: 'bold', lineHeight: '26px', letterSpacing: '-0.3px', fontFamily: FONT,
          whiteSpace: 'nowrap', pointerEvents: 'none',
        }}
      >
        {title}
      </div>
      <div
        style={{
          position: 'absolute', left: 59, top: 610, width: 533, textAlign: 'center',
          fontSize: 16.5, lineHeight: '20px', fontFamily: FONT, whiteSpace: 'nowrap',
        }}
      >
        {xLabel}
      </div>
      <div
        style={{
          position: 'absolute', left: 17 - 266.5, top: 303, width: 533, height: 20, textAlign: 'center',
          fontSize: 16.5, lineHeight: '20px', fontFamily: FONT, whiteSpace: 'nowrap', transform: 'rotate(-90deg)',
        }}
      >
        {yLabel}
      </div>
    </div>
  );
}

function TopHitChart() {
  return (
    <ScatterChart width={CHART} height={CHART} margin={MARGIN}>
      <XAxis dataKey="d" {...xAxisProps(scatterXDomain, scatterXTicks)} />
      <YAxis dataKey="s" {...yAxisProps(scatterYDomain, scatterYTicks, (v) => String(v))} />
      <Scatter
        data={scatterPoints}
        isAnimationActive={false}
        shape={(p: any) => <rect x={p.cx - 1.1} y={p.cy - 1.1} width={2.2} height={2.2} fill="#000" />}
      />
      <ReferenceLine y={scoreThreshold} stroke="#ff1a1a" strokeWidth={2} strokeDasharray="10 6" zIndex={TOP_Z} />
      <ReferenceLine x={-enrichmentZone} stroke="#006400" strokeWidth={2.5} strokeDasharray="11 6" zIndex={TOP_Z} />
      <ReferenceLine x={enrichmentZone} stroke="#006400" strokeWidth={2.5} strokeDasharray="11 6" zIndex={TOP_Z} />
      {frame(scatterXDomain, scatterYDomain)}
    </ScatterChart>
  );
}

function HeatChart() {
  return (
    <ScatterChart width={CHART} height={CHART} margin={MARGIN} className="heatmap">
      <defs>
        <filter id="heatBlur" x="-10%" y="-10%" width="120%" height="120%">
          <feGaussianBlur stdDeviation="9" />
        </filter>
      </defs>
      <XAxis dataKey="d" {...xAxisProps(heatXDomain, heatXTicks)} />
      <YAxis dataKey="s" {...yAxisProps(heatYDomain, heatYTicks, (v) => String(v))} />
      <Scatter
        data={heatCells}
        isAnimationActive={false}
        shape={(p: any) => (
          <rect
            x={p.cx - heatCellW / 2}
            y={p.cy - heatCellH / 2}
            width={heatCellW}
            height={heatCellH}
            fill={heatColor(p.payload.t)}
          />
        )}
      />
      {heatSeams.map((x) => (
        <ReferenceLine key={x} x={x} stroke="#ffffff" strokeWidth={1.2} zIndex={TOP_Z} />
      ))}
      <ReferenceLine y={scoreThreshold} stroke="#e02424" strokeWidth={1.3} strokeDasharray="7 4" zIndex={TOP_Z} />
      <ReferenceLine x={-enrichmentZone} stroke="#006400" strokeWidth={1.6} strokeDasharray="8 4" zIndex={TOP_Z} />
      <ReferenceLine x={enrichmentZone} stroke="#006400" strokeWidth={1.6} strokeDasharray="8 4" zIndex={TOP_Z} />
      {frame(heatXDomain, heatYDomain)}
    </ScatterChart>
  );
}

function ScoreDensityChart() {
  return (
    <ComposedChart width={CHART} height={CHART} margin={MARGIN} data={scoreData}>
      <XAxis dataKey="x" {...xAxisProps(scoreXDomain, scoreXTicks)} />
      <YAxis {...yAxisProps(scoreYDomain, scoreYTicks, (v) => v.toFixed(2))} />
      <Area
        type="monotone"
        dataKey="y"
        stroke="#000"
        strokeWidth={1}
        fill="#F5DEB3"
        fillOpacity={1}
        baseValue={0}
        dot={false}
        activeDot={false}
        isAnimationActive={false}
      />
      <ReferenceLine
        segment={[{ x: scoreGrid[0], y: 0 }, { x: scoreGrid[scoreGrid.length - 1], y: 0 }]}
        stroke="#000"
        strokeWidth={1}
        zIndex={TOP_Z}
      />
      <ReferenceLine x={scoreThreshold} stroke="#e83030" strokeWidth={1.5} strokeDasharray="6 4" zIndex={TOP_Z} />
      {frame(scoreXDomain, scoreYDomain)}
    </ComposedChart>
  );
}

function DistDensityChart() {
  return (
    <ComposedChart width={CHART} height={CHART} margin={MARGIN} data={distData}>
      <XAxis dataKey="x" {...xAxisProps(distXDomain, distXTicks)} />
      <YAxis {...yAxisProps(distYDomain, distYTicks, (v) => v.toFixed(4))} />
      <Area
        type="monotone"
        dataKey="y"
        stroke="#000"
        strokeWidth={1}
        fill="#F5DEB3"
        fillOpacity={1}
        baseValue={0}
        dot={false}
        activeDot={false}
        isAnimationActive={false}
      />
      <ReferenceLine
        segment={[{ x: distGrid[0], y: 0 }, { x: distGrid[distGrid.length - 1], y: 0 }]}
        stroke="#000"
        strokeWidth={1}
        zIndex={TOP_Z}
      />
      <ReferenceLine x={-enrichmentZone} stroke="#006400" strokeWidth={1.5} strokeDasharray="6 4" zIndex={TOP_Z} />
      <ReferenceLine x={enrichmentZone} stroke="#006400" strokeWidth={1.5} strokeDasharray="6 4" zIndex={TOP_Z} />
      {frame(distXDomain, distYDomain)}
    </ComposedChart>
  );
}

function DistLegend() {
  return (
    <div style={{ position: 'absolute', left: 372, top: 55, fontFamily: FONT, fontSize: 13 }}>
      {legendLabels.map((label, i) => (
        <div key={label} style={{ height: 16, display: 'flex', alignItems: 'center', whiteSpace: 'nowrap' }}>
          <svg width={30} height={16} style={{ display: 'block' }}>
            {i < 2 ? (
              <line x1={5} x2={30} y1={8} y2={8} stroke={legendColors[i]} strokeWidth={1} strokeDasharray="2 2" />
            ) : (
              <circle cx={17} cy={8} r={3} fill={legendColors[i]} />
            )}
          </svg>
          <span style={{ marginLeft: 10, lineHeight: '16px' }}>{label}</span>
        </div>
      ))}
    </div>
  );
}

export default function App() {
  return (
    <div
      style={{
        position: 'absolute', left: 0, top: 0, width: 1280, height: 1280, background: '#fff',
        fontFamily: FONT, color: '#000', overflow: 'hidden',
      }}
    >
      <style>{`.heatmap .recharts-scatter { filter: url(#heatBlur); }`}</style>
      <Panel left={0} top={0} title="Top hit for each peak" xLabel="Distance to peak summit" yLabel="Motif score">
        <TopHitChart />
      </Panel>
      <Panel left={640} top={0} title="Density heat map for the top hits" xLabel="Distance to peak summit" yLabel="Motif score">
        <HeatChart />
      </Panel>
      <Panel left={0} top={640} title="Motif score threshold: 88.800" xLabel="Motif score" yLabel="Density">
        <ScoreDensityChart />
      </Panel>
      <Panel left={640} top={640} title="Enrichment zone: 47.00" xLabel="Distance to peak summit" yLabel="Density">
        <DistDensityChart />
        <DistLegend />
      </Panel>
    </div>
  );
}
